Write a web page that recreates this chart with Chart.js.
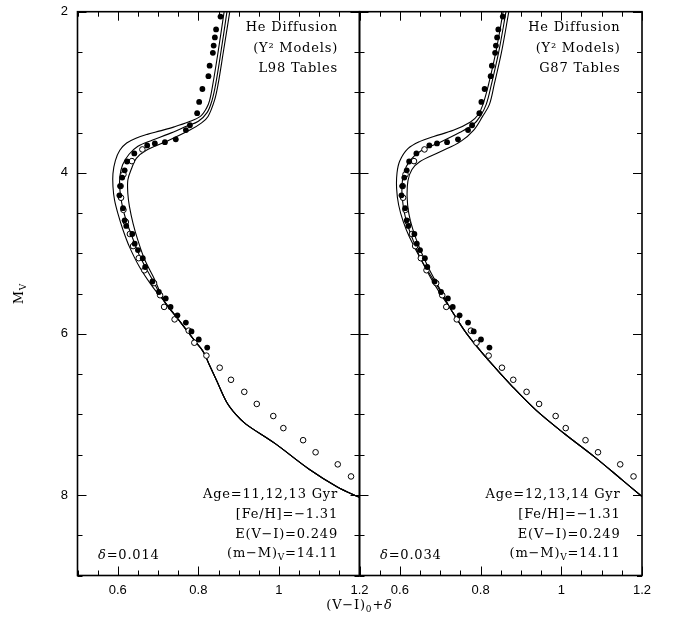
<!DOCTYPE html>
<html>
<head>
<meta charset="utf-8">
<script src="https://cdn.jsdelivr.net/npm/chart.js@4"></script>
<style>
  html, body { margin: 0; padding: 0; background: #fff; }
  #wrap { position: relative; width: 673px; height: 621px; }
  canvas { position: absolute; left: 0; top: 0; }
</style>
</head>
<body>
<div id="wrap">
  <canvas id="left" width="673" height="621"></canvas>
  <canvas id="right" width="673" height="621"></canvas>
</div>
<script>
// axes
const xLabelTicks = [0.6, 0.8, 1.0, 1.2];
const yLabelTicks = [2, 4, 6, 8];

// photometry, same in both panels
const filledV = [0.855, 0.844, 0.841, 0.838, 0.836, 0.828, 0.825, 0.810, 0.802, 0.797, 0.779, 0.769, 0.744, 0.717, 0.692, 0.673, 0.641, 0.623, 0.617, 0.611, 0.606, 0.604, 0.613, 0.617, 0.621, 0.636, 0.642, 0.650, 0.662, 0.668, 0.686, 0.702, 0.719, 0.731, 0.748, 0.769, 0.783, 0.801, 0.822];
const filledM = [2.06, 2.22, 2.32, 2.42, 2.51, 2.67, 2.80, 2.96, 3.12, 3.26, 3.41, 3.47, 3.585, 3.62, 3.635, 3.66, 3.76, 3.86, 3.97, 4.06, 4.165, 4.28, 4.44, 4.59, 4.66, 4.76, 4.88, 4.96, 5.06, 5.17, 5.35, 5.48, 5.56, 5.665, 5.77, 5.86, 5.97, 6.07, 6.17];
const openV = [0.661, 0.635, 0.614, 0.607, 0.608, 0.614, 0.620, 0.630, 0.638, 0.652, 0.666, 0.690, 0.705, 0.715, 0.741, 0.776, 0.790, 0.820, 0.853, 0.881, 0.914, 0.945, 0.986, 1.011, 1.060, 1.091, 1.146, 1.179];
const openM = [3.71, 3.855, 4.02, 4.165, 4.31, 4.46, 4.61, 4.76, 4.91, 5.06, 5.21, 5.37, 5.52, 5.665, 5.82, 5.96, 6.11, 6.27, 6.42, 6.57, 6.72, 6.87, 7.02, 7.17, 7.32, 7.47, 7.62, 7.77];

// L98 isochrones (11, 12, 13 Gyr), common lower main sequence
const l98Age11V = [0.864, 0.849, 0.836, 0.828, 0.820, 0.805, 0.775, 0.740, 0.705, 0.675, 0.645, 0.622, 0.605, 0.594, 0.588, 0.588, 0.592, 0.600, 0.613, 0.629, 0.654, 0.687];
const l98Age11M = [2.0, 2.5, 2.9, 3.1, 3.2, 3.3, 3.37, 3.43, 3.48, 3.52, 3.57, 3.63, 3.72, 3.85, 4.01, 4.17, 4.34, 4.5, 4.71, 4.92, 5.17, 5.42];
const l98Age12V = [0.871, 0.856, 0.843, 0.834, 0.822, 0.800, 0.772, 0.725, 0.685, 0.650, 0.628, 0.612, 0.605, 0.605, 0.610, 0.620, 0.636, 0.656, 0.683];
const l98Age12M = [2.0, 2.5, 2.9, 3.1, 3.25, 3.36, 3.42, 3.52, 3.595, 3.67, 3.77, 3.9, 4.05, 4.2, 4.38, 4.58, 4.8, 5.05, 5.3];
const l98Age13V = [0.878, 0.862, 0.849, 0.840, 0.824, 0.808, 0.779, 0.721, 0.671, 0.646, 0.634, 0.625, 0.625, 0.629, 0.638, 0.650, 0.667, 0.692];
const l98Age13M = [2.0, 2.5, 2.9, 3.1, 3.3, 3.38, 3.47, 3.61, 3.72, 3.82, 3.95, 4.09, 4.26, 4.42, 4.63, 4.84, 5.08, 5.33];
const l98LowerV = [0.716, 0.755, 0.793, 0.812, 0.826, 0.845, 0.870, 0.893, 0.918, 0.990, 1.075, 1.145, 1.2];
const l98LowerM = [5.6, 5.85, 6.1, 6.22, 6.37, 6.575, 6.845, 7.0, 7.12, 7.36, 7.68, 7.9, 8.03];

// G87 isochrones (12, 13, 14 Gyr)
const g87Age12V = [0.856, 0.838, 0.820, 0.806, 0.794, 0.775, 0.734, 0.684, 0.650, 0.620, 0.600, 0.593, 0.592, 0.597, 0.608, 0.624, 0.655, 0.692];
const g87Age12M = [2.0, 2.5, 2.9, 3.15, 3.28, 3.37, 3.47, 3.55, 3.61, 3.70, 3.85, 4.0, 4.2, 4.4, 4.6, 4.8, 5.1, 5.4];
const g87Age13V = [0.863, 0.845, 0.827, 0.814, 0.799, 0.782, 0.748, 0.700, 0.650, 0.625, 0.610, 0.605, 0.608, 0.616, 0.630, 0.650, 0.676, 0.700];
const g87Age13M = [2.0, 2.5, 2.9, 3.15, 3.3, 3.4, 3.5, 3.62, 3.735, 3.85, 4.0, 4.2, 4.4, 4.6, 4.8, 5.05, 5.3, 5.5];
const g87Age14V = [0.870, 0.852, 0.834, 0.822, 0.805, 0.783, 0.751, 0.700, 0.650, 0.630, 0.620, 0.618, 0.622, 0.632, 0.650, 0.673, 0.700];
const g87Age14M = [2.0, 2.5, 2.9, 3.15, 3.3, 3.47, 3.61, 3.74, 3.86, 3.96, 4.1, 4.3, 4.5, 4.7, 4.95, 5.2, 5.45];
const g87LowerV = [0.727, 0.766, 0.820, 0.880, 0.938, 1.008, 1.083, 1.150, 1.2];
const g87LowerM = [5.7, 6.0, 6.33, 6.66, 6.95, 7.24, 7.53, 7.81, 8.02];

const zip = (xs, ys) => xs.map((x, i) => ({ x: x, y: ys[i] }));

const serif = '"DejaVu Serif", serif';
const noteFont = '13px ' + serif;
const subFont = '9px ' + serif;
const italFont = 'italic 13px ' + serif;
const tickFont = '13px "Liberation Sans", Arial, sans-serif';

// draws pieces of text one after the other, pieces: [text, font, dy]
const drawRuns = (ctx, runs, x, y, align) => {
  let w = 0;
  runs.forEach(r => { ctx.font = r[1]; w += ctx.measureText(r[0]).width; });
  let cx = align === 'right' ? x - w : align === 'center' ? x - w / 2 : x;
  runs.forEach(r => {
    ctx.font = r[1];
    ctx.fillText(r[0], cx, y + (r[2] || 0));
    cx += ctx.measureText(r[0]).width;
  });
};

const panelPlugin = (p) => ({
  id: 'panel',
  afterDraw(chart) {
    const { ctx, chartArea: a, scales: { x, y } } = chart;
    ctx.save();
    ctx.strokeStyle = '#000';
    ctx.lineWidth = 1;
    ctx.beginPath();
    for (let i = 0; i <= 14; i++) {
      const v = 0.5 + i * 0.05;
      const len = xLabelTicks.some(t => Math.abs(t - v) < 1e-6) ? 9 : 5;
      const px = Math.round(x.getPixelForValue(v)) + 0.5;
      ctx.moveTo(px, a.bottom); ctx.lineTo(px, a.bottom - len);
      ctx.moveTo(px, a.top); ctx.lineTo(px, a.top + len);
    }
    for (let i = 0; i <= 14; i++) {
      const v = 2 + i * 0.5;
      const len = yLabelTicks.includes(v) ? 9 : 5;
      const py = Math.round(y.getPixelForValue(v)) + 0.5;
      ctx.moveTo(a.left, py); ctx.lineTo(a.left + len, py);
      ctx.moveTo(a.right, py); ctx.lineTo(a.right - len, py);
    }
    ctx.stroke();
    ctx.lineWidth = 1.6;
    ctx.strokeRect(a.left, a.top, a.right - a.left, a.bottom - a.top);

    ctx.fillStyle = '#000';
    ctx.textBaseline = 'middle';

    if (p.titles) {
      // y tick labels, placed through the y scale
      ctx.font = tickFont;
      ctx.textAlign = 'right';
      yLabelTicks.forEach(v => ctx.fillText(String(v), a.left - 9.5, y.getPixelForValue(v)));
      ctx.textAlign = 'left';
    }

    ctx.letterSpacing = '0.8px';
    const rx = a.right - 21.5;
    drawRuns(ctx, [['He Diffusion', noteFont]], rx, a.top + 16.3, 'right');
    drawRuns(ctx, [['(Y\u00b2 Models)', noteFont]], rx, a.top + 37.3, 'right');
    drawRuns(ctx, [[p.tables, noteFont]], rx, a.top + 57.3, 'right');
    drawRuns(ctx, [[p.age, noteFont]], rx, a.bottom - 80.5, 'right');
    drawRuns(ctx, [['[Fe/H]=\u22121.31', noteFont]], rx, a.bottom - 60.5, 'right');
    drawRuns(ctx, [['E(V\u2212I)=0.249', noteFont]], rx, a.bottom - 40.5, 'right');
    drawRuns(ctx, [['(m\u2212M)', noteFont], ['V', subFont, 4], ['=14.11', noteFont]], rx, a.bottom - 21.5, 'right');
    drawRuns(ctx, [['\u03b4', italFont], [p.delta, noteFont]], a.left + 20.5, a.bottom - 19.5, 'left');

    if (p.titles) {
      drawRuns(ctx, [['(V\u2212I)', noteFont], ['0', subFont, 4], ['+', noteFont], ['\u03b4', italFont]], a.right, 606, 'center');
      ctx.save();
      ctx.translate(20, (a.top + a.bottom) / 2);
      ctx.rotate(-Math.PI / 2);
      drawRuns(ctx, [['M', noteFont], ['V', subFont, 4]], 0, 0, 'center');
      ctx.restore();
    }
    ctx.restore();
  }
});

const curve = (v, m) => ({
  data: zip(v, m), showLine: true, pointRadius: 0,
  borderColor: '#000', borderWidth: 1.1, tension: 0.35, fill: false
});

const makePanel = (id, p) => new Chart(document.getElementById(id), {
  type: 'scatter',
  data: {
    datasets: [
      { data: zip(filledV, filledM), pointRadius: 2.9, pointBackgroundColor: '#000', pointBorderColor: '#000', pointBorderWidth: 0 },
      { data: zip(openV, openM), pointRadius: 2.8, pointBackgroundColor: '#fff', pointBorderColor: '#000', pointBorderWidth: 1 },
      ...p.curves.map(c => curve(c[0].concat(p.lower[0]), c[1].concat(p.lower[1])))
    ]
  },
  options: {
    responsive: false,
    animation: false,
    layout: { padding: p.padding },
    plugins: { legend: { display: false }, tooltip: { enabled: false } },
    scales: {
      x: {
        type: 'linear', min: 0.5, max: 1.2,
        grid: { display: false, drawTicks: false }, border: { display: false },
        afterBuildTicks: s => { s.ticks = xLabelTicks.map(v => ({ value: v })); },
        afterFit: s => { s.height = 45.5; },
        ticks: {
          autoSkip: false, maxRotation: 0, padding: 7, color: '#000',
          font: { family: '"Liberation Sans", Arial, sans-serif', size: 13 },
          callback: v => String(Number(v.toFixed(2)))
        }
      },
      y: { type: 'linear', min: 2, max: 9, reverse: true, display: false }
    }
  },
  plugins: [panelPlugin(p)]
});

makePanel('left', {
  padding: { left: 77.5, right: 313.5, top: 11.7, bottom: 0 },
  titles: true,
  tables: 'L98 Tables', age: 'Age=11,12,13 Gyr', delta: '=0.014',
  curves: [[l98Age11V, l98Age11M], [l98Age12V, l98Age12M], [l98Age13V, l98Age13M]],
  lower: [l98LowerV, l98LowerM]
});

makePanel('right', {
  padding: { left: 359.5, right: 31, top: 11.7, bottom: 0 },
  titles: false,
  tables: 'G87 Tables', age: 'Age=12,13,14 Gyr', delta: '=0.034',
  curves: [[g87Age12V, g87Age12M], [g87Age13V, g87Age13M], [g87Age14V, g87Age14M]],
  lower: [g87LowerV, g87LowerM]
});
</script>
</body>
</html>
